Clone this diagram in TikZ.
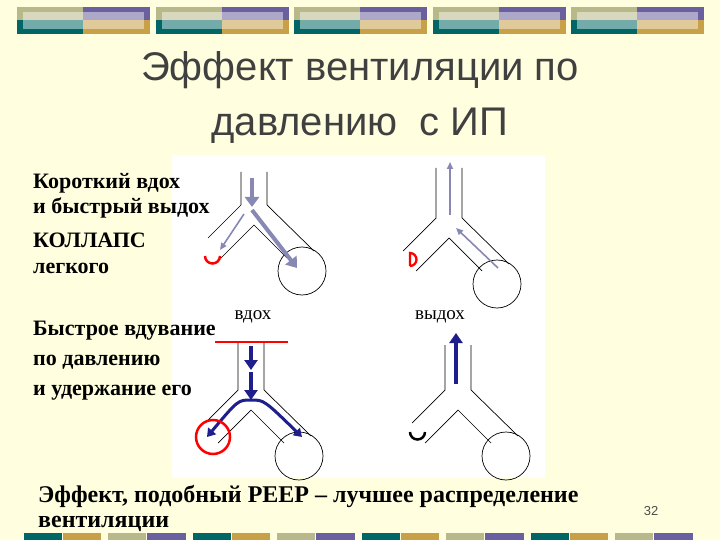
\documentclass[tikz,border=0pt]{standalone}
\usepackage{fontspec}
\setmainfont{Liberation Serif}
\newfontfamily\arial{Liberation Sans}
\usetikzlibrary{arrows.meta}
\definecolor{bg}{HTML}{FFFFE0}
\definecolor{khaki}{HTML}{B8B88A}
\definecolor{tealc}{HTML}{006666}
\definecolor{purp}{HTML}{6A609F}
\definecolor{goldc}{HTML}{C8A048}
\definecolor{gp}{HTML}{8888B4}
\definecolor{navy}{HTML}{1E1E8C}
\tikzset{
  wall/.style={black,line width=0.7pt},
  lbl/.style={anchor=west,font=\bfseries\fontsize{22}{24}\selectfont,inner sep=0},
  thick arr/.style={gp,line width=4pt,-{Triangle[length=10pt,width=14pt]}},
  thin arr/.style={gp,line width=1.6pt,-{Triangle[length=7pt,width=6pt]}},
  navy arr/.style={navy,line width=4pt,-{Triangle[length=10pt,width=13pt]}},
}
\newcommand{\airway}[4]{% name, cx, ytop, ybranch
  \draw[wall] (#2-13,#3)--(#2-13,#4)--(#2-46,#4+33);
  \draw[wall] (#2+13,#3)--(#2+13,#4)--(#2+60,#4+46);
  \draw[wall] (#2-33,#4+53)--(#2,#4+20)--(#2+33,#4+53);
  \node[wall,draw,circle,minimum size=48pt,inner sep=0] (#1) at (#2+48,#4+66) {};
}
\begin{document}
\begin{tikzpicture}[x=1pt,y=-1pt]
\fill[bg] (0,0) rectangle (720,540);
\useasboundingbox (0,0) rectangle (720,540);
% top band
\foreach \x in {17,156,294,433,571}{
  \fill[khaki] (\x,7) rectangle (\x+66,20);
  \fill[tealc] (\x,20) rectangle (\x+66,34);
  \fill[purp] (\x+66,7) rectangle (\x+133,20);
  \fill[goldc] (\x+66,20) rectangle (\x+133,34);
  \fill[white,opacity=0.45] (\x+6,12) rectangle (\x+127,29);
}
% bottom band
\foreach \i in {0,...,3}{
  \pgfmathsetmacro\x{24+169*\i}
  \fill[tealc] (\x,533) rectangle (\x+38,540);
  \fill[goldc] (\x+39,533) rectangle (\x+77,540);
  \fill[khaki] (\x+84,533) rectangle (\x+122,540);
  \fill[purp] (\x+123,533) rectangle (\x+162,540);
}
% title
\node[font=\arial\fontsize{40}{55}\selectfont,text=black!75,align=center] (title) at (360,97) {Эффект вентиляции по\\давлению\ \ с ИП};
% panel
\fill[white] (172,155) rectangle (545,478);
% airways
\airway{c1}{254}{172}{205}
\airway{c2}{449}{168}{218}
\airway{c3}{251}{342}{390}
\airway{c4}{458}{345}{390}
% diagram 1
\coordinate (a1) at (252,178); \coordinate (a2) at (252,207);
\draw[thick arr] (a1)--(a2);
\coordinate (a3) at (252,210); \coordinate (a4) at (297,268);
\draw[thick arr] (a3)--(a4);
\coordinate (a5) at (244,214); \coordinate (a6) at (220,250);
\draw[thin arr] (a5)--(a6);
\draw[red,line width=2.5pt] (205,256) arc (180:0:7.5);
% diagram 2
\coordinate (b1) at (450,215); \coordinate (b2) at (450,162);
\draw[thin arr] (b1)--(b2);
\coordinate (b3) at (498,268); \coordinate (b4) at (456,228);
\draw[thin arr] (b3)--(b4);
\draw[red,line width=2.3pt] (410,266)--(410,253) arc (-90:90:6.5);
% diagram 3
\coordinate (r1) at (215,342); \coordinate (r2) at (288,342);
\draw[red,line width=2pt] (r1)--(r2);
\coordinate (d1) at (251,346); \coordinate (d2) at (251,370);
\draw[navy arr] (d1)--(d2);
\coordinate (d3) at (251,372); \coordinate (d4) at (251,400);
\draw[navy arr] (d3)--(d4);
\coordinate (d5) at (251,400);
\draw[navy,line width=3pt,-{Triangle[length=8pt,width=10pt]}] (d5) .. controls (238,400) .. (207,437);
\draw[navy,line width=3pt,-{Triangle[length=8pt,width=10pt]}] (d5) .. controls (264,400) .. (302,437);
\draw[red,line width=2.5pt] (213,437) circle (17);
% diagram 4
\coordinate (e1) at (456,384); \coordinate (e2) at (456,333);
\draw[navy arr] (e1)--(e2);
\draw[black,line width=2.5pt] (410,432) arc (180:0:7.5);
% labels
\node[font=\fontsize{19}{22}\selectfont] (l1) at (253,317) {вдох};
\node[font=\fontsize{19}{22}\selectfont] (l2) at (440,317) {выдох};
\node[lbl] (t1) at (33,183) {Короткий вдох};
\node[lbl] (t2) at (33,208) {и быстрый выдох};
\node[lbl] (t3) at (33,240) {КОЛЛАПС};
\node[lbl] (t4) at (33,268) {легкого};
\node[lbl] (t5) at (33,331) {Быстрое вдувание};
\node[lbl] (t6) at (33,362) {по давлению};
\node[lbl] (t7) at (33,393) {и удержание его};
\node[lbl,font=\bfseries\fontsize{24}{26}\selectfont] (t8) at (38,496) {Эффект, подобный PEEP – лучшее распределение};
\node[lbl,font=\bfseries\fontsize{24}{26}\selectfont] (t9) at (38,524) {вентиляции};
\node[font=\arial\fontsize{13}{15}\selectfont,text=black!70] (pg) at (651,511) {32};
\end{tikzpicture}
\end{document}
